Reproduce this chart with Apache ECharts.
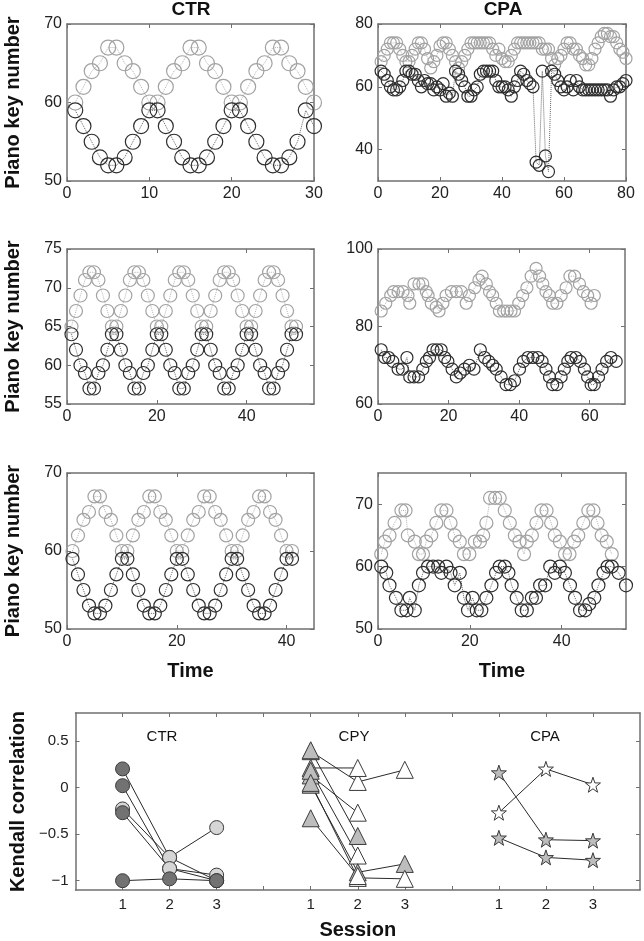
<!DOCTYPE html>
<html>
<head>
<meta charset="utf-8">
<script src="https://cdn.jsdelivr.net/npm/echarts@6/dist/echarts.min.js"></script>
<style>
  html, body { margin: 0; padding: 0; background: #fff; }
  #main { width: 644px; height: 941px; }
</style>
</head>
<body>
<div id="main"></div>
<script>
// ---- pitch traces (piano key number against time) ----
// CTR, row 1 (time = 1, 2, 3 ...)
var ctr1High = [60,62,64,65,67,67,65,64,62,60, 60,62,64,65,67,67,65,64,62,60, 60,62,64,65,67,67,65,64,62,60];
var ctr1Low  = [59,57,55,53,52,52,53,55,57,59, 59,57,55,53,52,52,53,55,57,59, 59,57,55,53,52,52,53,55,59,57];

// CTR, row 2
var ctr2High = [65,67,69,71,72,72,71,69,67,65, 65,67,69,71,72,72,71,69,67,65, 65,67,69,71,72,72,71,69,67,65,
                65,67,69,71,72,72,71,69,67,65, 65,67,69,71,72,72,71,69,67,65, 65];
var ctr2Low  = [64,62,60,59,57,57,59,60,62,64, 64,62,60,59,57,57,59,60,62,64, 64,62,60,59,57,57,59,60,62,64,
                64,62,60,59,57,57,59,60,62,64, 64,62,60,59,57,57,59,60,62,64, 64];

// CTR, row 3
var ctr3High = [60,62,64,65,67,67,65,64,62,60, 60,62,64,65,67,67,65,64,62,60, 60,62,64,65,67,67,65,64,62,60,
                60,62,64,65,67,67,65,64,62,60, 60];
var ctr3Low  = [59,57,55,53,52,52,53,55,57,59, 59,57,55,53,52,52,53,55,57,59, 59,57,55,53,52,52,53,55,57,59,
                59,57,55,53,52,52,53,55,57,59, 59];

// CPA, row 1 (time = 1 ... 80)
var cpa1High = [68,70,72,74,74,74,72,70,68,68, 70,72,74,74,72,69,66,68,70,73, 74,74,72,70,68,66,68,70,72,74,
                74,74,74,74,74,74,72,70,72,69, 68,68,70,72,74,74,74,74,74,74, 74,74,72,72,72,69,67,69,70,72,
                74,74,72,72,70,69,67,67,69,72, 74,76,77,77,76,76,74,72,71,69];
var cpa1Low  = [65,64,62,60,59,59,60,62,65,65, 64,64,62,60,62,61,61,59,60,59, 61,57,58,57,65,64,62,60,57,57,
                59,60,64,65,65,65,65,62,60,60, 60,59,57,60,62,65,64,62,61,60, 36,35,65,38,33,65,64,62,60,59,
                60,62,59,62,60,59,59,59,59,59, 59,59,59,59,57,59,60,60,61,62];

// CPA, row 2 ([time, key])
var cpa2High = [[0.9,84],[2.2,86],[3.6,88],[4.4,89],[5.7,89],[7.1,89],[8.5,88],[9.0,86],[10.2,91],[11.6,91],
                [12.7,91],[13.7,89],[14.2,88],[15.1,86],[16.5,85],[17.3,84],[18.4,86],[19.3,88],[20.8,89],[22.2,89],
                [23.6,89],[25.0,86],[25.9,88],[27.4,90],[28.6,92],[29.5,93],[30.7,91],[31.6,89],[32.5,88],[33.5,86],
                [34.4,84],[35.6,84],[36.6,84],[37.7,84],[38.7,84],[39.9,86],[41.0,88],[42.2,90],[43.4,93],[44.8,95],
                [45.8,93],[46.7,91],[47.6,89],[48.6,88],[49.5,86],[50.7,86],[51.9,88],[53.3,90],[54.4,93],[55.7,93],
                [57.1,91],[58.2,89],[59.4,88],[60.4,86],[61.3,88]];
var cpa2Low  = [[0.9,74],[1.9,72],[3.0,72],[4.2,71],[5.7,69],[6.9,69],[8.2,72],[9.0,67],[10.2,67],[11.5,67],
                [12.7,69],[13.7,71],[14.6,72],[15.6,74],[16.7,74],[17.9,74],[18.9,72],[19.8,71],[21.0,69],[22.2,67],
                [23.3,68],[24.5,69],[25.9,70],[27.2,69],[29.0,74],[30.2,72],[31.4,71],[32.5,70],[33.5,69],[34.9,67],
                [36.3,65],[37.5,65],[38.7,66],[40.1,69],[41.2,71],[42.5,72],[43.9,72],[45.3,72],[46.5,71],[47.6,69],
                [48.6,67],[49.5,65],[50.7,65],[51.9,67],[52.8,69],[53.8,71],[54.7,72],[56.1,72],[57.3,71],[58.5,69],
                [59.4,67],[60.4,65],[61.3,65],[62.5,67],[63.5,69],[64.8,71],[66.0,72],[67.5,71]];

// CPA, row 3 ([time, key])
var cpa3High = [[0.7,62],[1.5,64],[2.5,65],[3.6,67],[5.1,69],[6.0,69],[6.5,65],[8.0,64],[8.9,62],[9.8,62],
                [10.5,64],[11.6,65],[12.7,67],[13.8,69],[14.9,69],[15.8,67],[16.7,65],[17.8,64],[18.7,62],[19.9,62],
                [21.1,64],[22.2,64],[22.9,65],[23.6,67],[24.4,71],[25.5,71],[26.5,71],[27.6,69],[28.7,67],[29.8,65],
                [30.8,64],[31.8,62],[32.4,64],[33.5,65],[34.5,67],[35.6,69],[36.7,69],[37.7,67],[38.5,65],[39.6,64],
                [40.7,62],[41.7,62],[42.7,64],[43.6,65],[44.7,67],[45.8,69],[46.9,69],[47.8,67],[48.7,65],[49.8,64],
                [50.9,62]];
var cpa3Low  = [[0.7,60],[1.8,59],[2.5,57],[3.9,55],[5.1,53],[6.2,53],[6.9,55],[8.0,53],[8.9,57],[9.8,59],
                [10.9,60],[12.0,60],[13.1,60],[13.8,59],[14.9,60],[15.8,59],[16.7,57],[17.8,59],[18.7,55],[19.6,53],
                [20.6,55],[21.5,53],[22.5,53],[23.6,55],[24.7,57],[25.7,59],[26.5,60],[27.6,60],[28.4,59],[29.1,57],
                [30.2,55],[31.3,53],[32.4,53],[33.5,55],[34.4,55],[35.3,57],[36.4,57],[37.5,60],[38.5,59],[39.6,60],
                [40.7,59],[41.8,57],[42.9,55],[44.0,53],[45.1,53],[46.0,54],[47.1,55],[48.0,57],[49.1,59],[50.0,60],
                [50.9,60],[52.4,59],[54.0,57]];

// ---- Kendall correlation per subject over sessions 1-3 ----
var sessionLabels = ['1', '2', '3'];
var ctrSubjects = [[0.20, -0.75, -1.00], [0.02, -0.87, -0.94], [-0.23, -0.75, -0.43], [-0.27, -0.87, -1.00], [-1.00, -0.98, -1.00]];
var cpySubjects = [[0.39, 0.06, 0.19], [0.40, -0.52], [0.21, 0.21], [0.13, -0.27], [0.18, -0.73],
                   [0.03, -0.91, -0.82], [0.05, -0.97, -0.98], [-0.33, -0.95]];
var cpaSubjects = [[0.16, -0.56, -0.57], [-0.27, 0.20, 0.03], [-0.54, -0.75, -0.78]];

// marker fills (style only)
var DARK = '#727272', LIGHT = '#d6d6d6', GREY = '#bdbdbd', WHITE = '#ffffff';
var ctrFill = [[DARK, LIGHT, DARK], [DARK, LIGHT, LIGHT], [LIGHT, LIGHT, LIGHT], [DARK, LIGHT, DARK], [DARK, DARK, DARK]];
var cpyFill = [[GREY, WHITE, WHITE], [GREY, GREY], [GREY, WHITE], [GREY, WHITE], [GREY, WHITE],
               [GREY, GREY, GREY], [GREY, WHITE, WHITE], [GREY, WHITE]];
var cpaFill = [[GREY, GREY, GREY], [WHITE, WHITE, WHITE], [GREY, GREY, GREY]];

var FONT = 'Liberation Sans';
var FRAME = '#707070';
var grids = [], xAxes = [], yAxes = [], series = [];

function panel(box, xr, yr, extra) {
  extra = extra || {};
  var gi = grids.length;
  grids.push({ left: box[0], top: box[1], width: box[2], height: box[3] });
  function axis(pos, range, labels) {
    return {
      type: 'value', gridIndex: gi, position: pos, min: range[0], max: range[1],
      axisLine: { show: true, onZero: false, lineStyle: { color: FRAME, width: 1.5 } },
      axisTick: { show: true, inside: true, length: 4, customValues: range[2], lineStyle: { color: FRAME } },
      axisLabel: labels ? { customValues: range[3] || range[2], color: '#222', fontFamily: FONT, fontSize: extra.fs || 16, margin: extra.lm || 5 } : { show: false },
      splitLine: { show: false }
    };
  }
  var xb = axis('bottom', xr, true), xt = axis('top', xr, false);
  var yl = axis('left', yr, true), yr2 = axis('right', yr, false);
  if (extra.xFmt) xb.axisLabel.formatter = extra.xFmt;
  if (extra.yFmt) yl.axisLabel.formatter = extra.yFmt;
  if (extra.xName) {
    xb.name = extra.xName; xb.nameLocation = 'middle'; xb.nameGap = extra.xGap;
    xb.nameTextStyle = { fontFamily: FONT, fontWeight: 'bold', fontSize: 20, color: '#111' };
  }
  if (extra.yName) {
    yl.name = extra.yName; yl.nameLocation = 'middle'; yl.nameGap = extra.yGap;
    yl.nameTextStyle = { fontFamily: FONT, fontWeight: 'bold', fontSize: 20, color: '#111' };
  }
  xAxes.push(xb, xt);
  yAxes.push(yl, yr2);
  return gi;
}

function trace(gi, pts, color, lineColor, size) {
  series.push({
    type: 'line', xAxisIndex: gi * 2, yAxisIndex: gi * 2, data: pts,
    symbol: 'circle', symbolSize: size, showSymbol: true,
    itemStyle: { color: 'rgba(0,0,0,0)', borderColor: color, borderWidth: 1.2 },
    lineStyle: { color: lineColor, width: 1, type: 'dotted' },
    silent: true
  });
}
function indexed(arr) { return arr.map(function (v, i) { return [i + 1, v]; }); }

var LIGHTC = '#a2a2a2', DARKC = '#2e2e2e';
var pianoName = 'Piano key number';

var g1 = panel([67, 24, 247, 157], [0, 30, [0, 10, 20, 30]], [50, 70, [50, 60, 70]], { yName: pianoName, yGap: 44 });
trace(g1, indexed(ctr1High), LIGHTC, '#b5b5b5', 15);
trace(g1, indexed(ctr1Low), DARKC, '#666', 15);

var g2 = panel([378, 24, 248, 157], [0, 80, [0, 20, 40, 60, 80]], [30, 80, [40, 60, 80]]);
trace(g2, indexed(cpa1High), LIGHTC, '#b5b5b5', 12);
trace(g2, indexed(cpa1Low), DARKC, '#666', 12);

var g3 = panel([67, 249, 247, 155], [0, 55, [0, 20, 40]], [55, 75, [55, 60, 65, 70, 75]], { yName: pianoName, yGap: 44 });
trace(g3, indexed(ctr2High), LIGHTC, '#b5b5b5', 13);
trace(g3, indexed(ctr2Low), DARKC, '#666', 13);

var g4 = panel([378, 249, 247, 155], [0, 70, [0, 20, 40, 60]], [60, 100, [60, 80, 100]]);
trace(g4, cpa2High, LIGHTC, '#b5b5b5', 12);
trace(g4, cpa2Low, DARKC, '#666', 12);

var g5 = panel([67, 473, 247, 156], [0, 45, [0, 20, 40]], [50, 70, [50, 60, 70]], { yName: pianoName, yGap: 44, xName: 'Time', xGap: 32 });
trace(g5, indexed(ctr3High), LIGHTC, '#b5b5b5', 13);
trace(g5, indexed(ctr3Low), DARKC, '#666', 13);

var g6 = panel([378, 473, 248, 156], [0, 54, [0, 20, 40]], [50, 75, [50, 60, 70]], { xName: 'Time', xGap: 32 });
trace(g6, cpa3High, LIGHTC, '#b5b5b5', 13);
trace(g6, cpa3Low, DARKC, '#666', 13);

// Kendall correlation panel: three groups on one axis (1-3, 5-7, 9-11)
var g7 = panel([65, 713, 575, 180], [0, 12, [1, 2, 3, 4, 5, 6, 7, 8, 9, 10, 11], [1, 2, 3, 5, 6, 7, 9, 10, 11]],
  [-1.1, 0.8, [-1, -0.5, 0, 0.5]], {
    fs: 15, lm: 7, xName: 'Session', xGap: 30, yName: 'Kendall correlation', yGap: 46,
    xFmt: function (v) { return sessionLabels[(v - 1) % 4]; },
    yFmt: function (v) { return v === 0 ? '0' : String(v).replace('-', '\u2212'); }
  });

var STAR = 'path://M50,2 L61.8,36.2 L97.6,36.6 L69,58.4 L79.4,92.6 L50,72 L20.6,92.6 L31,58.4 L2.4,36.6 L38.2,36.2 Z';
function subjects(list, fills, offset, symbol, size) {
  list.forEach(function (vals, s) {
    series.push({
      type: 'line', xAxisIndex: g7 * 2, yAxisIndex: g7 * 2,
      data: vals.map(function (v, i) { return { value: [offset + i, v], itemStyle: { color: fills[s][i] } }; }),
      symbol: symbol, symbolSize: size, showSymbol: true,
      itemStyle: { borderColor: '#3a3a3a', borderWidth: 1 },
      lineStyle: { color: '#2a2a2a', width: 1 },
      silent: true
    });
  });
}
subjects(ctrSubjects, ctrFill, 1, 'circle', 14);
subjects(cpySubjects, cpyFill, 5, 'triangle', 17);
subjects(cpaSubjects, cpaFill, 9, STAR, 15);

function label(text, x, y, font) {
  return { type: 'text', x: x, y: y, style: { text: text, textAlign: 'center', textVerticalAlign: 'middle', font: font, fill: '#111' } };
}

var chart = echarts.init(document.getElementById('main'));
chart.setOption({
  animation: false,
  backgroundColor: '#fff',
  grid: grids,
  xAxis: xAxes,
  yAxis: yAxes,
  series: series,
  graphic: [
    label('CTR', 191, 10, 'bold 19px "Liberation Sans"'),
    label('CPA', 503, 10, 'bold 19px "Liberation Sans"'),
    label('CTR', 162, 737, '15px "Liberation Sans"'),
    label('CPY', 354, 737, '15px "Liberation Sans"'),
    label('CPA', 545, 737, '15px "Liberation Sans"')
  ]
});
</script>
</body>
</html>
